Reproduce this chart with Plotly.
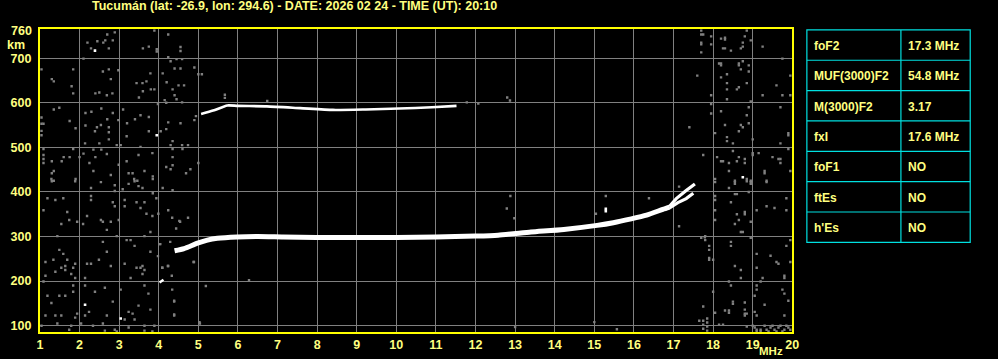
import plotly.graph_objects as go

# ---------------- data ----------------
title_text = "Tucumán (lat: -26.9, lon: 294.6) - DATE: 2026 02 24 - TIME (UT): 20:10"
freq_ticks = list(range(1, 21))
height_ticks = [100, 200, 300, 400, 500, 600, 700]
height_top_label = "760"

# F-layer ordinary trace (MHz, km)
o_freq = [4.40, 4.64, 4.98, 5.23, 5.48, 5.98, 6.50, 7.14, 7.98, 9.00, 10.00, 11.00,
          12.00, 12.57, 13.40, 14.23, 15.07, 15.48, 15.90, 16.32, 16.73, 16.90]
o_height = [268, 273, 285, 292, 296, 299, 300, 299, 298, 298, 298, 299,
            301, 303, 310, 316, 325, 331, 339, 348, 361, 366]
# split tail near the critical frequency
tail_a_freq = [16.90, 17.07, 17.32, 17.54]
tail_a_height = [368, 385, 403, 418]
tail_b_freq = [16.90, 17.11, 17.32, 17.50]
tail_b_height = [364, 376, 385, 397]
# second-hop / multiple echo near 590 km
m_freq = [5.07, 5.20, 5.40, 5.73, 6.00, 6.73, 7.57, 8.40, 9.23, 10.07, 10.90, 11.52]
m_height = [575, 578, 583, 594, 593, 592, 588, 584, 585, 587, 590, 593]
# small echo near 200 km
e_freq = [4.02, 4.12]
e_height = [197, 203]
# isolated bright pixels
bright_freq = [2.39, 3.95, 2.14, 3.04, 15.29, 15.29, 18.75]
bright_height = [717, 527, 147, 116, 357, 362, 433]

# background noise speckle (MHz, km)
noise_left_upper = [(2.70,753),(2.89,758),(3.89,762),(4.24,753),(2.20,735),(2.45,738),(2.60,735),(2.65,740),
    (2.84,740),(2.29,722),(2.74,722),(3.60,722),(3.75,726),(3.95,720),(3.95,715),(4.55,725),(4.55,716),
    (2.10,699),(1.04,675),(1.84,675),(2.59,670),(2.74,675),(2.98,673),(3.79,666),(4.10,666),(4.24,702),
    (4.30,693),(4.45,698),(4.59,698),(4.40,677),(4.55,677),(4.90,679),(5.00,664),(5.09,664),(1.30,653),
    (1.35,648),(1.80,637),(1.84,621),(2.40,621),(2.50,623),(2.69,617),(2.83,621),(2.79,653),(3.44,644),
    (3.59,644),(3.69,648),(3.60,626),(3.50,612),(3.80,630),(3.89,630),(4.20,646),(4.35,630),(4.50,639),
    (4.64,639),(4.40,617),(4.45,608),(4.15,606),(4.19,600),(4.59,601),(3.98,597),(1.35,585),(1.49,589),
    (1.04,567),(1.04,553),(1.09,553),(1.04,537),(1.04,527),(1.75,559),(1.90,543),(2.15,577),(2.30,580),
    (2.55,587),(2.70,563),(2.84,577),(2.98,561),(3.10,585),(3.20,554),(3.40,563),(3.54,572),(3.75,568),
    (2.44,545),(2.54,550),(2.74,545),(2.74,534),(2.39,536),(2.15,549),(2.74,518),(2.14,509),(2.50,509),
    (3.04,505),(2.94,505),(3.19,525),(3.75,536),(4.05,536),(4.19,541),(4.24,556),(4.55,554),(4.94,570),
    (4.90,561),(4.35,514),(4.30,505),(4.59,505),(4.74,505),(1.09,496),(1.84,496),(1.09,483),(1.09,474),
    (1.09,465),(1.30,469),(1.60,478),(1.55,469),(1.75,478),(2.00,478),(2.10,486),(2.25,465),(2.35,495),
    (2.40,478),(2.55,495),(2.69,485),(3.19,469),(3.49,483),(3.54,501),(3.84,487),(2.99,461),(4.35,496),
    (4.35,478),(4.60,496),(4.19,456),(4.30,451),(4.35,460),(4.80,451),(4.69,442),(5.00,465),(1.30,442),
    (1.35,447),(2.35,447),(2.79,438),(3.24,442),(3.34,442),(3.64,447),(3.85,435),(1.29,429),(1.35,425),
    (1.90,429),(3.38,429),(3.46,425),(3.85,429)]
noise_left_lower = [(1.30,424),(1.89,424),(2.29,409),(2.54,422),(2.89,415),(2.89,402),(3.09,406),(3.24,418),
    (3.39,424),(3.49,413),(3.59,409),(3.85,397),(4.10,409),(4.35,404),(1.19,386),(1.39,382),(1.59,386),
    (1.09,359),(1.69,355),(1.54,328),(1.74,337),(1.94,333),(2.09,328),(2.19,346),(2.29,391),(2.29,382),
    (2.54,337),(2.59,333),(2.79,333),(2.69,315),(2.84,377),(2.89,368),(3.14,382),(3.14,368),(3.44,377),
    (3.54,364),(3.64,377),(3.69,351),(3.79,310),(3.84,346),(3.99,351),(3.94,386),(4.24,359),(4.34,342),
    (4.54,333),(4.74,342),(2.99,337),(1.44,301),(1.49,270),(1.59,261),(1.69,248),(1.14,243),(1.34,248),
    (1.54,230),(1.64,234),(1.84,230),(1.89,239),(1.14,212),(1.39,221),(1.64,225),(1.79,216),(1.89,207),
    (2.14,207),(2.19,239),(2.29,239),(2.49,248),(2.59,288),(2.69,266),(2.79,234),(2.94,301),(3.14,239),
    (3.19,292),(3.29,292),(3.39,279),(3.44,230),(3.54,230),(3.64,301),(3.64,225),(3.59,234),(3.79,266),
    (3.29,207),(4.09,230),(4.24,234),(4.04,283),(4.29,288),(4.89,243),(1.09,199),(1.19,167),(1.29,151),
    (1.49,167),(1.64,167),(1.84,190),(1.84,176),(2.14,190),(2.39,176),(2.64,185),(3.04,181),(3.64,190),
    (3.74,172),(3.59,216),(4.34,181),(4.39,154),(1.14,123),(1.39,123),(1.54,123),(1.89,118),(1.94,127),
    (2.24,131),(2.14,123),(2.69,123),(2.84,154),(3.24,131),(3.34,127),(3.49,145),(3.79,136),(4.39,123),
    (5.04,105),(1.44,105),(1.79,100),(2.04,105),(2.34,100),(2.59,105),(2.89,91),(3.14,114),(3.39,114),
    (3.64,100),(3.89,100),(1.04,100),(1.74,91),(2.64,89),(2.94,87),(3.24,96),(3.64,89),(3.84,87),
    (4.39,156),(4.39,125),(5.03,108),(4.52,335),(4.44,318),(3.98,256),(4.02,283),(4.09,230),(4.23,234),
    (4.33,212),(4.88,243),(5.19,189),(6.28,202)]
noise_middle = [(5.67,618),(5.67,611),(6.74,604),(11.78,601),(12.07,598),(12.80,612),(12.87,605),
    (12.79,363),(12.88,391),(12.98,341),(15.04,351),(15.29,391),(16.38,386),(17.14,412),(17.14,323),
    (13.00,97),(15.00,108),(15.57,92)]
noise_right_upper = [(17.70,762),(17.70,753),(17.75,753),(17.70,735),(17.70,731),(17.70,713),(17.95,749),
    (17.95,731),(18.20,744),(18.30,746),(18.30,742),(18.25,722),(18.30,722),(18.45,717),(18.70,722),
    (18.75,735),(18.75,726),(18.80,749),(18.85,762),(18.95,740),(19.25,726),(18.20,688),(18.15,688),
    (18.20,684),(18.35,664),(18.35,644),(18.35,630),(18.35,608),(18.20,657),(18.65,688),(18.65,684),
    (18.75,693),(18.90,684),(18.90,670),(18.70,675),(18.60,630),(18.65,635),(18.85,644),(18.95,603),
    (17.60,661),(17.95,617),(19.25,617),(19.60,639),(19.75,617),(19.95,661),(19.75,699),(19.95,617),
    (17.95,597),(17.95,576),(18.20,581),(17.40,545),(18.05,532),(18.30,550),(18.35,523),(18.35,514),
    (18.50,509),(18.65,536),(18.70,550),(18.75,545),(18.85,572),(18.90,590),(18.90,554),(19.00,518),
    (19.70,590),(19.90,532),(19.90,527),(19.70,509),(19.90,496),(17.75,483),(18.10,478),(18.20,469),
    (18.25,469),(18.40,465),(18.50,492),(18.65,478),(18.60,469),(18.80,474),(18.80,465),(19.00,487),
    (19.00,483),(19.15,487),(19.50,478),(19.65,474),(19.70,474),(19.70,465),(19.30,447),(19.30,442),
    (18.40,447),(19.95,447),(18.05,429),(18.85,429),(18.95,425),(19.35,425),(18.55,425)]
noise_right_lower = [(18.05,422),(18.05,391),(18.05,382),(18.05,359),(18.05,337),(18.40,409),(18.55,422),
    (18.55,418),(18.55,395),(18.60,395),(18.85,424),(18.95,422),(18.95,418),(18.90,400),(19.35,422),
    (18.45,377),(18.60,350),(18.80,355),(18.80,350),(18.65,337),(18.55,328),(18.95,333),(19.10,359),
    (19.35,368),(19.55,364),(19.85,386),(19.85,359),(18.70,310),(18.75,310),(17.70,297),(17.80,301),
    (17.80,292),(18.45,288),(18.45,279),(17.90,279),(17.90,270),(17.90,252),(17.90,248),(18.00,248),
    (18.95,297),(19.10,261),(19.45,257),(19.60,243),(19.65,239),(19.85,279),(19.95,292),(19.95,243),
    (18.55,234),(18.70,225),(19.10,230),(18.70,207),(19.25,207),(19.80,212),(19.80,207),(18.40,199),
    (18.45,190),(19.10,190),(19.20,199),(19.75,181),(19.80,172),(18.00,176),(18.50,154),(18.50,149),
    (18.80,152),(19.05,167),(19.10,181),(19.30,147),(19.90,156),(17.75,143),(18.30,134),(18.40,134),
    (18.40,129),(18.80,136),(18.80,127),(18.85,127),(18.80,123),(19.05,131),(19.10,123),(19.80,123),
    (18.05,129),(17.65,111),(17.75,111),(17.85,116),(17.85,107),(17.85,98),(17.85,89),(17.75,102),
    (17.75,93),(18.15,102),(18.25,102),(18.85,98),(19.00,100),(19.05,96),(19.10,91),(19.20,91),
    (19.30,100),(19.35,91),(19.45,96),(19.50,100),(19.55,91),(19.65,96),(19.70,100),(19.80,91),
    (19.85,100),(19.90,96),(19.95,91),(19.10,87),(19.20,87),(19.40,87),(19.60,87),(19.75,87),
    (17.79,298)]

param_names = ["foF2", "MUF(3000)F2", "M(3000)F2", "fxI", "foF1", "ftEs", "h'Es"]
param_values = ["17.3 MHz", "54.8 MHz", "3.17", "17.6 MHz", "NO", "NO", "NO"]

# ---------------- style / layout ----------------
W, H = 998, 359
X0, X1 = 37.3, 797.3      # plot area in pixels
Y0, Y1 = 29.3, 333.3
TXT = "#ffff80"
FONT = "Liberation Sans"
GRID = "#808080"
CYAN = "#00e0e0"


def px(x):
    return x / W


def py(y):
    return 1 - y / H


noise = noise_left_upper + noise_left_lower + noise_middle + noise_right_upper + noise_right_lower
noise_f = [p[0] for p in noise]
noise_h = [p[1] for p in noise]

fig = go.Figure()
fig.add_trace(go.Scatter(x=noise_f, y=noise_h, mode="markers",
                         marker=dict(symbol="square", size=2.4, color=GRID, line=dict(width=0)),
                         hoverinfo="skip"))
fig.add_trace(go.Scatter(x=o_freq, y=o_height, mode="lines",
                         line=dict(color="white", width=5, shape="spline", smoothing=0.6)))
fig.add_trace(go.Scatter(x=tail_a_freq, y=tail_a_height, mode="lines",
                         line=dict(color="white", width=3.2)))
fig.add_trace(go.Scatter(x=tail_b_freq, y=tail_b_height, mode="lines",
                         line=dict(color="white", width=3.2)))
fig.add_trace(go.Scatter(x=m_freq, y=m_height, mode="lines",
                         line=dict(color="white", width=2.6, shape="spline", smoothing=0.6)))
fig.add_trace(go.Scatter(x=e_freq, y=e_height, mode="lines",
                         line=dict(color="white", width=2.5)))
fig.add_trace(go.Scatter(x=bright_freq, y=bright_height, mode="markers",
                         marker=dict(symbol="square", size=2.6, color="white", line=dict(width=0))))

tickfont = dict(family=FONT, size=12.5, color=TXT, weight="bold")
fig.update_layout(
    width=W, height=H,
    margin=dict(l=0, r=0, t=0, b=0, pad=0),
    paper_bgcolor="black", plot_bgcolor="black",
    showlegend=False,
    xaxis=dict(domain=[px(X0), px(X1)], range=[1, 20], tickvals=freq_ticks,
               showgrid=True, gridcolor=GRID, gridwidth=1, zeroline=False,
               showline=True, linecolor="#ffff00", linewidth=2, mirror=True,
               ticks="", tickfont=tickfont),
    yaxis=dict(domain=[py(Y1), py(Y0)], range=[85, 765], tickvals=height_ticks,
               showgrid=True, gridcolor=GRID, gridwidth=1, zeroline=False,
               showline=True, linecolor="#ffff00", linewidth=2, mirror=True,
               ticks="", tickfont=tickfont, ticklabelstandoff=4),
)

ann = []
ann.append(dict(text=title_text, x=px(294), y=py(6.5), xref="paper", yref="paper",
                xanchor="center", yanchor="middle", showarrow=False,
                font=dict(family=FONT, size=12.5, color=TXT, weight="bold")))
ann.append(dict(text=height_top_label, x=px(31.5), y=py(31), xref="paper", yref="paper",
                xanchor="right", yanchor="middle", showarrow=False, font=tickfont))
ann.append(dict(text="km", x=px(13.5), y=py(45), xref="paper", yref="paper",
                xanchor="center", yanchor="middle", showarrow=False, font=tickfont))
ann.append(dict(text="MHz", x=px(790), y=py(352), xref="paper", yref="paper",
                xanchor="right", yanchor="middle", showarrow=False,
                font=dict(family=FONT, size=11.5, color=TXT, weight="bold")))

# parameter table
TL, TR, TC = 812, 977, 907
TT, TB = 30, 243
n = len(param_names)
rh = (TB - TT) / n
shapes = [dict(type="rect", xref="paper", yref="paper", x0=px(TL), x1=px(TR), y0=py(TB), y1=py(TT),
               line=dict(color=CYAN, width=1.2))]
shapes.append(dict(type="line", xref="paper", yref="paper", x0=px(TC), x1=px(TC), y0=py(TB), y1=py(TT),
                   line=dict(color=CYAN, width=1.2)))
for i in range(1, n):
    yy = TT + i * rh
    shapes.append(dict(type="line", xref="paper", yref="paper", x0=px(TL), x1=px(TR), y0=py(yy), y1=py(yy),
                       line=dict(color=CYAN, width=1.2)))
cellfont = dict(family=FONT, size=12, color=TXT, weight="bold")
for i, (nm, val) in enumerate(zip(param_names, param_values)):
    yc = TT + (i + 0.5) * rh + 1
    ann.append(dict(text=nm, x=px(817), y=py(yc), xref="paper", yref="paper", xanchor="left",
                    yanchor="middle", showarrow=False, font=cellfont))
    ann.append(dict(text=val, x=px(912.5), y=py(yc), xref="paper", yref="paper", xanchor="left",
                    yanchor="middle", showarrow=False, font=cellfont))

fig.update_layout(annotations=ann, shapes=shapes)
fig.write_html("out.html")
